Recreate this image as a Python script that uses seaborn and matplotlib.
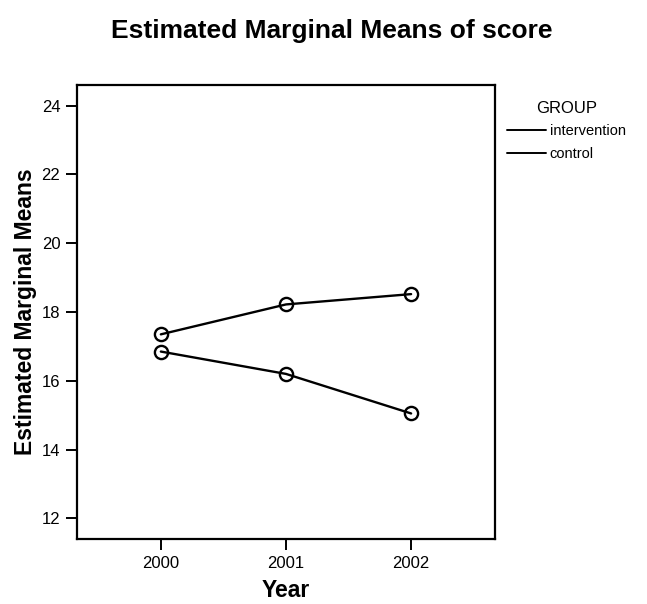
import pandas as pd
import seaborn as sns
import matplotlib.pyplot as plt
from matplotlib.lines import Line2D

# Estimated marginal means of score
years = ["2000", "2001", "2002"]
groups = ["intervention", "control"]
intervention_means = [17.35, 18.22, 18.52]
control_means = [16.85, 16.20, 15.05]

df = pd.DataFrame({
    "Year": years * 2,
    "score": intervention_means + control_means,
    "GROUP": [groups[0]] * 3 + [groups[1]] * 3,
})

sns.set_style("ticks")
plt.rcParams["font.family"] = ["Liberation Sans", "DejaVu Sans"]
plt.rcParams["text.color"] = "black"
plt.rcParams["axes.labelcolor"] = "black"
plt.rcParams["xtick.color"] = "black"
plt.rcParams["ytick.color"] = "black"

fig = plt.figure(figsize=(6.47, 6.04), dpi=100)
ax = fig.add_axes([0.119, 0.1076, 0.646, 0.7517])

sns.lineplot(data=df, x="Year", y="score", hue="GROUP",
             palette=["black", "black"], marker="o", markersize=9.5,
             mfc="none", mec="black", mew=1.7, linewidth=1.7,
             legend=False, ax=ax)

ax.set_xlim(-0.67, 2.67)
ax.set_ylim(11.4, 24.6)
ax.set_yticks([12, 14, 16, 18, 20, 22, 24])

for side in ["top", "right", "left", "bottom"]:
    ax.spines[side].set_visible(True)
    ax.spines[side].set_linewidth(1.6)
    ax.spines[side].set_color("black")

ax.tick_params(axis="both", direction="out", length=8, width=1.4,
               color="black", labelsize=12, pad=4)
ax.set_xlabel("Year", fontsize=16.5, fontweight="bold", labelpad=6)
ax.set_ylabel("Estimated Marginal Means", fontsize=16.5, fontweight="bold",
              labelpad=3)

fig.text(0.513, 0.937, "Estimated Marginal Means of score", ha="center",
         va="baseline", fontsize=19, fontweight="bold")

handles = [Line2D([], [], color="black", linewidth=1.4) for _ in groups]
leg = fig.legend(handles, groups, title="GROUP", loc="upper left",
                 bbox_to_anchor=(0.763, 0.855), frameon=False, fontsize=10.5,
                 title_fontsize=12, handlelength=2.7, handletextpad=0.25,
                 labelspacing=0.6)

fig.savefig("out.png", dpi=100)
